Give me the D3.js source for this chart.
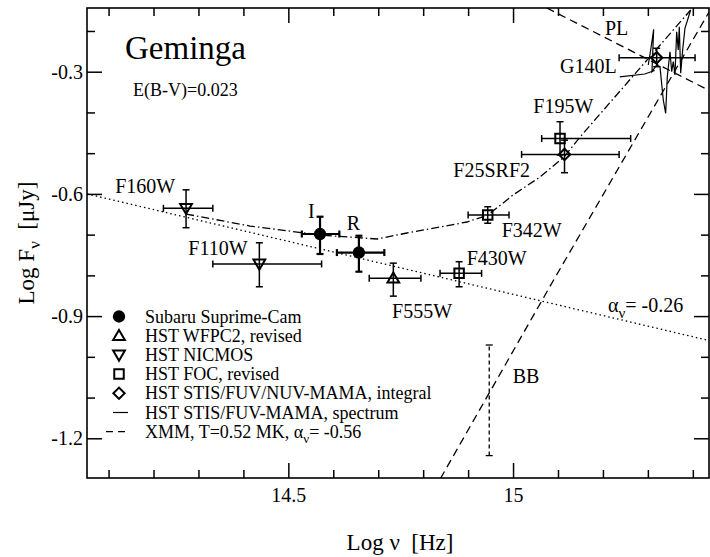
<!DOCTYPE html>
<html><head><meta charset="utf-8">
<script src="https://cdn.jsdelivr.net/npm/d3@7"></script>
<style>
body{margin:0;background:#fff}
svg{display:block}
text{font-family:"Liberation Serif","Times New Roman",serif;fill:#000}
</style>
</head><body>
<svg id="c" width="710" height="557"></svg>
<script>
// ---------------- data (log nu [Hz], log F [uJy]) ----------------
const subaru = [
  {band:"I", x:14.5705, y:-0.6985, xlo:14.530, xhi:14.6135, ylo:-0.7476, yhi:-0.656},
  {band:"R", x:14.657,  y:-0.744,  xlo:14.608, xhi:14.7136, ylo:-0.791,  yhi:-0.7027}
];
const wfpc2 = [
  {band:"F555W", x:14.7336, y:-0.807, xlo:14.680, xhi:14.795, ylo:-0.851, yhi:-0.770}
];
const nicmos = [
  {band:"F160W", x:14.2724, y:-0.6354, xlo:14.222, xhi:14.332, ylo:-0.683, yhi:-0.590},
  {band:"F110W", x:14.4355, y:-0.772,  xlo:14.332, xhi:14.574, ylo:-0.828, yhi:-0.720}
];
const foc = [
  {band:"F430W", x:14.880,  y:-0.795, xlo:14.8375, xhi:14.930,  ylo:-0.828,  yhi:-0.7665},
  {band:"F342W", x:14.9436, y:-0.652, xlo:14.900,  xhi:14.991,  ylo:-0.672,  yhi:-0.6315},
  {band:"F195W", x:15.1045, y:-0.464, xlo:15.0637, xhi:15.2617, ylo:-0.5045, yhi:-0.4228}
];
const stis = [
  {band:"F25SRF2", x:15.1145, y:-0.503,  xlo:15.019, xhi:15.236, ylo:-0.548,  yhi:-0.468},
  {band:"G140L",   x:15.3196, y:-0.2656, xlo:15.236, xhi:15.405, ylo:-0.2877, yhi:-0.2425}
];
// STIS/FUV-MAMA spectrum
const spectrumX = [15.3009,15.3062,15.3129,15.3091,15.3196,15.3269,15.3343,15.3396,15.3432,15.3492,15.3530,15.3565,15.3603,15.3641,15.3676,15.3699,15.3730,15.3774,15.3825,15.3952];
const spectrumY = [-0.2836,-0.2467,-0.1959,-0.3000,-0.2836,-0.2877,-0.3695,-0.4021,-0.3123,-0.2509,-0.3000,-0.2754,-0.3081,-0.2018,-0.2467,-0.1895,-0.3039,-0.2467,-0.1934,-0.1485];
// optical power law, alpha = -0.26
const plOptX = [14.052, 15.436];
const plOptY = [-0.600, -0.960];
// XMM power law, alpha = -0.56
const plXmmX = [15.075, 15.436];
const plXmmY = [-0.1436, -0.3458];
// XMM blackbody, T = 0.52 MK
const bbX = [14.8386, 15.090, 15.436];
const bbY = [-1.2985, -0.812, -0.1535];
// sum of optical PL and BB (dash-dot)
const sumX = [14.2724,14.4148,14.5705,14.6973,14.7641,14.8976,14.9443,15.0000,15.0600,15.1134,15.1490,15.2536,15.3952];
const sumY = [-0.6494,-0.6789,-0.7009,-0.7107,-0.6960,-0.6690,-0.6518,-0.6027,-0.5585,-0.5094,-0.4603,-0.3277,-0.1485];
// BB uncertainty bar
const bbErr = {x:14.947, ylo:-1.2425, yhi:-0.971};
// G140L leader line
const leaderX = [15.2375, 15.2929, 15.3152];
const leaderY = [-0.3125, -0.3057, -0.2971];

const xMajor = [14.5, 15.0];
const xTickLabels = ["14.5", "15"];
const xMinor = [14.1,14.2,14.3,14.4,14.6,14.7,14.8,14.9,15.1,15.2,15.3,15.4];
const yMajor = [-1.2, -0.9, -0.6, -0.3];
const yTickLabels = ["-1.2", "-0.9", "-0.6", "-0.3"];
const yMinor = [-1.1,-1.0,-0.8,-0.7,-0.5,-0.4,-0.2];

const legendLabels = ["Subaru Suprime-Cam","HST WFPC2, revised","HST NICMOS","HST FOC, revised",
  "HST STIS/FUV/NUV-MAMA, integral","HST STIS/FUV-MAMA, spectrum","XMM, T=0.52 MK, \u03b1"];

// annotation anchors (data coords, text start / baseline)
const annotations = [
  {t:"F160W", x:14.1147, y:-0.5985},
  {t:"I", x:14.5438, y:-0.660},
  {t:"R", x:14.630, y:-0.6887},
  {t:"F110W", x:14.2775, y:-0.750},
  {t:"F555W", x:14.7307, y:-0.9047},
  {t:"F430W", x:14.8969, y:-0.7746},
  {t:"F342W", x:14.9748, y:-0.7051},
  {t:"F25SRF2", x:14.8671, y:-0.5593},
  {t:"F195W", x:15.0451, y:-0.4021},
  {t:"G140L", x:15.1044, y:-0.3039},
  {t:"PL", x:15.2046, y:-0.2099},
  {t:"BB", x:14.9992, y:-1.065}
];

// ---------------- drawing ----------------
const W = 710, H = 557;
const L = 87, R = 709, T = 8, B = 478;
const svg = d3.select("#c");
const x = d3.scaleLinear().domain([14.052, 15.436]).range([L, R]);
const y = d3.scaleLinear().domain([-1.2975, -0.1436]).range([B, T]);

svg.append("defs").append("clipPath").attr("id","clip")
  .append("rect").attr("x",L).attr("y",T).attr("width",R-L).attr("height",B-T);

const plot = svg.append("g").attr("clip-path","url(#clip)");
const zip = (xs, ys) => xs.map((v,i)=>[v, ys[i]]);
const line = d3.line().x(d=>x(d[0])).y(d=>y(d[1]));

function drawLine(g, xs, ys, dash, w){
  g.append("path").attr("d", line(zip(xs,ys))).attr("fill","none")
   .attr("stroke","#000").attr("stroke-width", w||1.3)
   .attr("stroke-dasharray", dash||null);
}
drawLine(plot, plOptX, plOptY, "1.5,3", 1.3);
drawLine(plot, plXmmX, plXmmY, "8,5", 1.3);
drawLine(plot, bbX, bbY, "8,5", 1.3);
drawLine(plot, sumX, sumY, "8,3,1.5,3", 1.3);
drawLine(plot, spectrumX, spectrumY, null, 1.2);
drawLine(plot, leaderX, leaderY, null, 1.2);

// BB uncertainty bar (dashed)
plot.append("line").attr("x1",x(bbErr.x)).attr("x2",x(bbErr.x))
  .attr("y1",y(bbErr.ylo)).attr("y2",y(bbErr.yhi))
  .attr("stroke","#000").attr("stroke-width",1.3).attr("stroke-dasharray","4,3");
[bbErr.ylo, bbErr.yhi].forEach(v=>{
  plot.append("line").attr("x1",x(bbErr.x)-3.5).attr("x2",x(bbErr.x)+3.5)
    .attr("y1",y(v)).attr("y2",y(v)).attr("stroke","#000").attr("stroke-width",1.3);
});

// error bars
function errorBars(data, w){
  const g = plot.append("g").attr("stroke","#000").attr("stroke-width",w);
  data.forEach(d=>{
    g.append("line").attr("x1",x(d.xlo)).attr("x2",x(d.xhi)).attr("y1",y(d.y)).attr("y2",y(d.y));
    g.append("line").attr("x1",x(d.x)).attr("x2",x(d.x)).attr("y1",y(d.ylo)).attr("y2",y(d.yhi));
    [d.xlo,d.xhi].forEach(v=>g.append("line").attr("x1",x(v)).attr("x2",x(v)).attr("y1",y(d.y)-3.5).attr("y2",y(d.y)+3.5));
    [d.ylo,d.yhi].forEach(v=>g.append("line").attr("x1",x(d.x)-3.5).attr("x2",x(d.x)+3.5).attr("y1",y(v)).attr("y2",y(v)));
  });
}
errorBars(subaru, 2.2);
errorBars(wfpc2, 1.5);
errorBars(nicmos, 1.5);
errorBars(foc, 1.5);
errorBars(stis, 1.5);

// symbols
const sym = {
  circle: d3.symbol().type(d3.symbolCircle).size(120)(),
  triUp: d3.symbol().type(d3.symbolTriangle).size(60)(),
  square: d3.symbol().type(d3.symbolSquare).size(90)(),
};
function marker(g, kind, px, py){
  if(kind==="circle"){
    g.append("path").attr("d",sym.circle).attr("transform",`translate(${px},${py})`).attr("fill","#000");
  } else if(kind==="up"){
    g.append("path").attr("d",sym.triUp).attr("transform",`translate(${px},${py+1})`)
      .attr("fill","none").attr("stroke","#000").attr("stroke-width",2);
  } else if(kind==="down"){
    g.append("path").attr("d",sym.triUp).attr("transform",`translate(${px},${py-1}) rotate(180)`)
      .attr("fill","none").attr("stroke","#000").attr("stroke-width",2);
  } else if(kind==="square"){
    g.append("path").attr("d",sym.square).attr("transform",`translate(${px},${py})`)
      .attr("fill","none").attr("stroke","#000").attr("stroke-width",2);
  } else if(kind==="diamond"){
    g.append("path").attr("d",d3.symbol().type(d3.symbolSquare).size(64)()).attr("transform",`translate(${px},${py}) rotate(45)`)
      .attr("fill","none").attr("stroke","#000").attr("stroke-width",2);
  }
}
const mg = plot.append("g");
subaru.forEach(d=>marker(mg,"circle",x(d.x),y(d.y)));
wfpc2.forEach(d=>marker(mg,"up",x(d.x),y(d.y)));
nicmos.forEach(d=>marker(mg,"down",x(d.x),y(d.y)));
foc.forEach(d=>marker(mg,"square",x(d.x),y(d.y)));
stis.forEach(d=>marker(mg,"diamond",x(d.x),y(d.y)));

// annotations
const ag = svg.append("g").attr("font-size",20);
annotations.forEach(a=>ag.append("text").attr("x",x(a.x)).attr("y",y(a.y)).text(a.t));
// alpha label
const al = ag.append("text").attr("x",x(15.2113)).attr("y",y(-0.8892));
al.append("tspan").text("\u03b1");
al.append("tspan").attr("font-size",15).attr("dy",6).text("\u03bd");
al.append("tspan").attr("dy",-6).text("= -0.26");

// title + reddening
svg.append("text").attr("x",125).attr("y",59).attr("font-size",33).text("Geminga");
svg.append("text").attr("x",133).attr("y",96).attr("font-size",18).text("E(B-V)=0.023");

// legend
const lg = svg.append("g");
const ly0 = 316.5, ldy = 19.2, lx = 119, ltx = 145;
legendLabels.forEach((t,i)=>{
  const yy = ly0 + i*ldy;
  const kinds = ["circle","up","down","square","diamond"];
  if(i<5) marker(lg, kinds[i], lx, yy);
  if(i===5) lg.append("line").attr("x1",113).attr("x2",128).attr("y1",yy).attr("y2",yy).attr("stroke","#000").attr("stroke-width",1.2);
  if(i===6){
    lg.append("line").attr("x1",106).attr("x2",128).attr("y1",yy).attr("y2",yy)
      .attr("stroke","#000").attr("stroke-width",1.2).attr("stroke-dasharray","7,5");
  }
  const tx = lg.append("text").attr("x",ltx).attr("y",yy+6).attr("font-size",18).text(t);
  if(i===6){
    tx.append("tspan").attr("font-size",13).attr("dy",5).text("\u03bd");
    tx.append("tspan").attr("dy",-5).text("= -0.56");
  }
});

// axes (ticks inward on all sides)
function styleAxis(g){
  g.select(".domain").remove();
  g.selectAll("line").attr("stroke","#000").attr("stroke-width",1.5);
  g.selectAll("text").attr("font-size",20).attr("font-family",'"Liberation Serif",serif').attr("fill","#000");
}
svg.append("g").attr("transform",`translate(0,${B})`)
  .call(d3.axisBottom(x).tickValues(xMajor).tickSize(-15).tickPadding(9.5).tickFormat((d,i)=>xTickLabels[i])).call(styleAxis);
svg.append("g").attr("transform",`translate(0,${B})`)
  .call(d3.axisBottom(x).tickValues(xMinor).tickSize(-8).tickFormat("")).call(styleAxis);
svg.append("g").attr("transform",`translate(0,${T})`)
  .call(d3.axisTop(x).tickValues(xMajor).tickSize(-15).tickFormat("")).call(styleAxis);
svg.append("g").attr("transform",`translate(0,${T})`)
  .call(d3.axisTop(x).tickValues(xMinor).tickSize(-8).tickFormat("")).call(styleAxis);
svg.append("g").attr("transform",`translate(${L},0)`)
  .call(d3.axisLeft(y).tickValues(yMajor).tickSize(-15).tickPadding(4).tickFormat((d,i)=>yTickLabels[i])).call(styleAxis);
svg.append("g").attr("transform",`translate(${L},0)`)
  .call(d3.axisLeft(y).tickValues(yMinor).tickSize(-8).tickFormat("")).call(styleAxis);
svg.append("g").attr("transform",`translate(${R},0)`)
  .call(d3.axisRight(y).tickValues(yMajor).tickSize(-15).tickFormat("")).call(styleAxis);
svg.append("g").attr("transform",`translate(${R},0)`)
  .call(d3.axisRight(y).tickValues(yMinor).tickSize(-8).tickFormat("")).call(styleAxis);

// frame
svg.append("rect").attr("x",L).attr("y",T).attr("width",R-L).attr("height",B-T)
  .attr("fill","none").attr("stroke","#000").attr("stroke-width",1.6);

// axis titles
const xt = svg.append("text").attr("x",(L+R)/2 + 2).attr("y",550).attr("text-anchor","middle").attr("font-size",23);
xt.text("Log \u03bd  [Hz]").attr("xml:space","preserve").style("white-space","pre");
const yt = svg.append("text").attr("transform",`translate(34,${(T+B)/2}) rotate(-90)`)
  .attr("text-anchor","middle").attr("font-size",23).style("white-space","pre");
yt.append("tspan").text("Log F");
yt.append("tspan").attr("font-size",17).attr("dy",6).text("\u03bd");
yt.append("tspan").attr("dy",-6).text("  [\u03bcJy]");
</script>
</body></html>
